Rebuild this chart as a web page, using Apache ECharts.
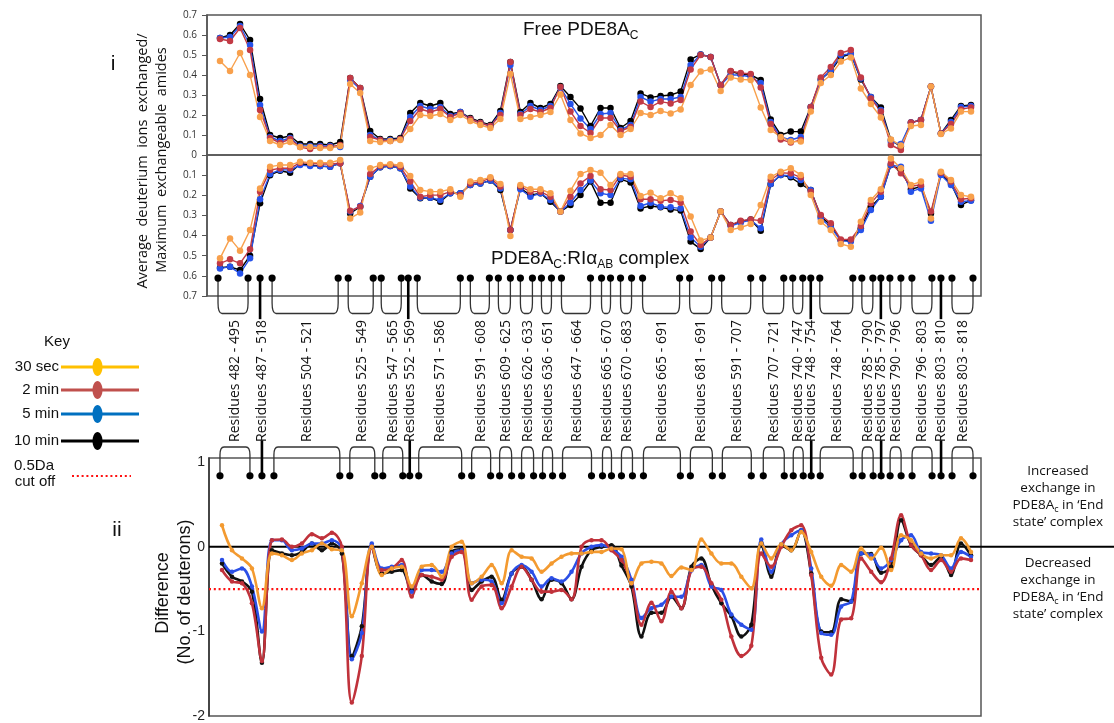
<!DOCTYPE html>
<html><head><meta charset="utf-8">
<script src="https://cdn.jsdelivr.net/npm/echarts@6/dist/echarts.min.js"></script>
<style>html,body{margin:0;padding:0;background:#fff}#c{width:1114px;height:723px}</style>
</head><body><div id="c"></div><script>
// ---------- DATA ----------
const timeLabels = ['30 sec', '2 min', '5 min', '10 min'];
// (i) Free PDE8Ac : fraction exchanged per peptide position
const freeBlack  = [.585,.60,.655,.575,.28,.10,.085,.095,.055,.055,.055,.05,.065,.385,.335,.12,.08,.08,.085,.21,.26,.245,.26,.205,.215,.185,.165,.15,.22,.465,.215,.26,.235,.255,.345,.29,.233,.145,.235,.235,.135,.17,.308,.288,.295,.30,.317,.478,.503,.49,.35,.417,.405,.40,.375,.178,.10,.117,.117,.24,.378,.42,.49,.505,.378,.29,.238,.075,.042,.162,.175,.342,.108,.175,.245,.25];
const freeBlue   = [.585,.59,.645,.55,.25,.09,.07,.085,.045,.045,.045,.045,.04,.375,.33,.10,.075,.075,.08,.19,.245,.23,.24,.195,.215,.18,.16,.145,.21,.45,.205,.245,.225,.245,.338,.255,.183,.13,.205,.21,.125,.15,.29,.267,.28,.28,.29,.45,.503,.49,.35,.40,.40,.39,.36,.165,.09,.075,.09,.24,.375,.425,.50,.505,.383,.29,.225,.065,.055,.162,.175,.342,.108,.165,.24,.245];
const freeRed    = [.58,.57,.635,.525,.225,.085,.06,.08,.04,.03,.04,.04,.05,.385,.335,.09,.075,.07,.08,.17,.23,.215,.23,.19,.21,.18,.16,.145,.20,.465,.20,.23,.215,.235,.34,.217,.145,.11,.185,.185,.12,.14,.267,.24,.267,.258,.275,.428,.50,.49,.35,.42,.41,.405,.338,.155,.078,.062,.075,.24,.388,.44,.51,.525,.388,.283,.217,.05,.025,.162,.175,.342,.108,.155,.228,.238];
const freeOrange = [.47,.42,.51,.40,.19,.07,.05,.065,.04,.04,.035,.035,.045,.355,.31,.07,.065,.07,.075,.13,.20,.195,.205,.175,.20,.17,.15,.135,.18,.405,.18,.19,.20,.215,.303,.175,.108,.085,.10,.15,.10,.13,.21,.20,.22,.208,.228,.35,.417,.428,.32,.388,.378,.375,.238,.125,.09,.067,.067,.217,.36,.40,.467,.488,.333,.255,.188,.078,.047,.145,.15,.342,.105,.133,.217,.217];
// PDE8Ac:RIaAB complex (plotted inverted)
const cplxBlack  = [.56,.555,.571,.50,.24,.10,.078,.088,.045,.05,.055,.058,.041,.29,.257,.108,.061,.055,.066,.166,.215,.212,.232,.19,.19,.149,.141,.127,.174,.372,.165,.199,.19,.232,.281,.248,.199,.132,.237,.237,.12,.137,.265,.253,.26,.27,.276,.43,.467,.409,.281,.348,.33,.32,.376,.144,.099,.111,.144,.174,.306,.348,.425,.425,.364,.257,.207,.05,.074,.17,.157,.29,.094,.141,.248,.225];
const cplxBlue   = [.563,.555,.588,.513,.22,.094,.074,.074,.05,.055,.055,.058,.041,.281,.253,.108,.061,.055,.066,.157,.212,.212,.223,.19,.19,.149,.141,.127,.166,.372,.17,.207,.19,.223,.281,.237,.174,.127,.19,.199,.116,.12,.253,.237,.257,.26,.265,.409,.455,.409,.281,.353,.336,.323,.364,.144,.099,.104,.124,.174,.315,.359,.425,.43,.372,.273,.207,.05,.058,.182,.166,.326,.099,.149,.232,.227];
const cplxRed    = [.538,.518,.538,.468,.182,.075,.066,.066,.038,.041,.045,.045,.041,.277,.257,.094,.055,.05,.058,.132,.207,.199,.199,.182,.199,.141,.132,.116,.157,.372,.157,.182,.182,.207,.281,.207,.141,.104,.17,.174,.099,.108,.22,.22,.227,.223,.237,.38,.447,.409,.281,.348,.326,.32,.326,.124,.088,.091,.111,.182,.298,.339,.419,.419,.353,.24,.182,.041,.091,.154,.149,.281,.088,.132,.22,.215];
const cplxOrange = [.513,.414,.475,.372,.166,.058,.05,.05,.033,.038,.038,.038,.025,.315,.286,.066,.05,.046,.05,.104,.174,.182,.182,.17,.207,.132,.124,.111,.144,.402,.149,.17,.17,.19,.281,.177,.094,.075,.088,.149,.094,.094,.204,.187,.215,.19,.215,.305,.425,.409,.281,.372,.36,.343,.248,.108,.083,.066,.099,.199,.331,.372,.442,.455,.331,.223,.17,.017,.066,.149,.132,.315,.083,.124,.199,.207];
// (ii) Difference (No. of deuterons)
const diffBlack  = [-.196,-.353,-.41,-.53,-1.37,-.04,-.078,-.1,-.06,.04,-.04,.04,-.078,-1.29,-.94,0,-.314,-.294,-.275,-.51,-.333,-.41,-.44,-.06,-.03,-.51,-.41,-.353,-.627,-.314,-.235,-.39,-.62,-.39,-.43,-.62,-.235,-.04,0,.02,-.22,-.47,-1.06,-.78,-.78,-.59,-.725,-.235,-.137,-.45,-.667,-.82,-1.06,-.92,.04,-.353,.02,-.04,.196,-.314,-1.0,-1.01,-.62,-.647,-.078,-.086,-.306,-.235,.314,.02,-.1,-.216,-.118,-.333,.04,-.1];
const diffBlue   = [-.157,-.294,-.255,-.47,-1.0,.078,.078,-.04,-.02,.04,.04,.078,-.02,-1.33,-1.02,.04,-.255,-.235,-.216,-.53,-.275,-.275,-.294,-.078,-.04,-.43,-.39,-.41,-.667,-.314,-.216,-.294,-.47,-.373,-.41,-.294,-.078,0,.02,-.02,-.118,-.39,-.84,-.725,-.686,-.59,-.59,-.28,-.216,-.47,-.51,-.8,-.92,-.98,.086,-.294,.03,.137,.196,-.255,-1.02,-1.04,-.706,-.647,-.078,-.1,-.255,-.157,.078,.137,-.06,-.078,-.1,-.255,-.06,-.118];
const diffRed    = [-.275,-.41,-.43,-.667,-1.35,.078,.086,0,.04,.15,.1,.165,0,-1.84,-1.29,0,-.275,-.255,-.157,-.588,-.333,-.353,-.39,-.118,-.06,-.627,-.47,-.45,-.725,-.47,-.235,-.39,-.53,-.53,-.51,-.62,0,.078,.078,-.04,-.157,-.43,-.92,-.66,-.88,-.53,-.725,-.275,-.235,-.43,-.627,-1.06,-1.29,-1.17,-.078,-.235,0,.196,.255,-.333,-1.31,-1.51,-.86,-.843,-.137,-.294,-.42,-.137,.373,.02,-.1,-.275,-.157,-.294,-.137,-.157];
const diffOrange = [.255,-.04,-.137,-.255,-.725,-.078,-.1,-.157,-.078,-.04,.04,-.03,-.04,-.82,-.43,0,-.333,-.255,-.235,-.47,-.235,-.216,-.353,0,.06,-.43,-.353,-.216,-.43,-.04,-.118,-.137,-.294,-.196,-.118,-.078,-.078,-.06,-.06,-.02,-.03,-.43,-.196,-.176,-.196,-.345,-.243,-.275,.086,-.078,-.196,-.196,-.353,-.49,.04,-.137,.03,-.04,.176,-.06,-.353,-.46,-.216,-.294,-.02,-.137,-.01,-.275,.137,.078,-.078,-.137,-.1,-.1,.1,-.06];
const CUTOFF = -0.5;
// Peptides: label, first and last plot position
const pepLabels = ['Residues 482 - 495','Residues 487 - 518','Residues 504 - 521','Residues 525 - 549','Residues 547 - 565','Residues 552 - 569','Residues 571 - 586','Residues 591 - 608','Residues 609 - 625','Residues 626 - 633','Residues 636 - 651','Residues 647 - 664','Residues 665 - 670','Residues 670 - 683','Residues 665 - 691','Residues 681 - 691','Residues 591 - 707','Residues 707 - 721','Residues 740 - 747','Residues 748 - 754','Residues 748 - 764','Residues 785 - 790','Residues 785 - 797','Residues 790 - 796','Residues 796 - 803','Residues 803 - 810','Residues 803 - 818'];
const pepStart = [-0.2,4.0,5.2,12.8,16.1,18.8,19.7,25,27.8,30,32.1,34.1,38.1,40,42.2,46.9,50.1,54.2,57.2,59,59.9,64.1,66,66.9,69.1,72,73.1];
const pepEnd   = [2.8,4.0,11.8,15.3,18.1,18.8,24,26.9,29,31.2,33.1,37,39,41.1,45.9,49.1,53,56.3,58.2,59,63.2,65.2,66,68,71.1,72,75.2];

// ---------- STYLE ----------
const XMIN = -1.3, XMAX = 76.0;
const topColors = {k:'#000000', b:'#2652ea', r:'#c23a45', o:'#f8a04c'};
const botColors = {k:'#111111', b:'#2b4fe6', r:'#c0323b', o:'#f39a30'};
const keyColors = ['#ffc000', '#c0504d', '#0070c0', '#000000'];
const SANS = '"Open Sans", sans-serif';
const ARIAL = '"Liberation Sans", Arial, sans-serif';

function toXY(arr){ return arr.map((v,i)=>[i,v]); }
function lineS(name, arr, color, gi, opt){
  return Object.assign({
    name, type:'line', xAxisIndex:gi, yAxisIndex:gi, data:toXY(arr),
    symbol:'circle', symbolSize:6.5, showSymbol:true,
    lineStyle:{color, width:1.4}, itemStyle:{color}, silent:true, animation:false
  }, opt||{});
}
function bot(name, arr, color){ const o = lineS(name, arr, color, 2, {smooth:0.35, symbolSize:4.5}); o.lineStyle.width=2.6; return o; }

const pepData = pepStart.map((s,i)=>[s, pepEnd[i], 0]);

function dot(x,y){ return {type:'circle', shape:{cx:x, cy:y, r:3.6}, style:{fill:'#000'}}; }

function renderUpper(params, api){
  const s = api.value(0), e = api.value(1);
  const yD = api.coord([s, 0.611])[1];
  const yC = api.coord([s, 0.735])[1];
  const yB = api.coord([s, 0.787])[1];
  const x1 = api.coord([s, 0])[0], x2 = api.coord([e, 0])[0];
  const ch = [];
  if (s === e) {
    const yE = api.coord([s, 0.815])[1];
    ch.push({type:'line', shape:{x1:x1,y1:yD,x2:x1,y2:yE}, style:{stroke:'#000', lineWidth:2.6}});
    ch.push(dot(x1,yD));
  } else {
    const r = Math.min(4, (x2-x1)/3);
    const p = `M${x1},${yD}L${x1},${yC}Q${x1},${yB} ${x1+r},${yB}L${x2-r},${yB}Q${x2},${yB} ${x2},${yC}L${x2},${yD}`;
    ch.push({type:'path', shape:{pathData:p}, style:{stroke:'#333', lineWidth:1.3, fill:null}});
    ch.push(dot(x1,yD)); ch.push(dot(x2,yD));
  }
  return {type:'group', children:ch};
}
function renderLower(params, api){
  const s = api.value(0), e = api.value(1);
  const yD = api.coord([s, 0.839])[1];
  const yC = api.coord([s, 1.086])[1];
  const yT = api.coord([s, 1.18])[1];
  const yL = api.coord([s, 1.24])[1];
  const x1 = api.coord([s, 0])[0], x2 = api.coord([e, 0])[0];
  const ch = [];
  if (s === e) {
    const yE = api.coord([s, 1.26])[1];
    ch.push({type:'line', shape:{x1:x1,y1:yD,x2:x1,y2:yE}, style:{stroke:'#000', lineWidth:2.6}});
    ch.push(dot(x1,yD));
  } else {
    const r = Math.min(4, (x2-x1)/3);
    const p = `M${x1},${yD}L${x1},${yC}Q${x1},${yT} ${x1+r},${yT}L${x2-r},${yT}Q${x2},${yT} ${x2},${yC}L${x2},${yD}`;
    ch.push({type:'path', shape:{pathData:p}, style:{stroke:'#333', lineWidth:1.3, fill:null}});
    ch.push(dot(x1,yD)); ch.push(dot(x2,yD));
  }
  ch.push({type:'text', x:(x1+x2)/2, y:yL, rotation:Math.PI/2,
    style:{text:pepLabels[params.dataIndex], font:'14px '+SANS, fill:'#111', align:'left', verticalAlign:'middle'}});
  return {type:'group', children:ch};
}

const gridBase = {show:true, borderColor:'#555', borderWidth:1.5, backgroundColor:'transparent'};
const xBase = {type:'value', min:XMIN, max:XMAX, show:false};
const yLab = {fontSize:10, color:'#333', fontFamily:SANS, margin:10};

const option = {
  animation:false,
  grid:[
    Object.assign({left:207, top:15, width:774, height:140}, gridBase),
    Object.assign({left:207, top:155, width:774, height:141}, gridBase),
    Object.assign({left:209, top:458, width:772, height:259}, gridBase)
  ],
  xAxis:[Object.assign({gridIndex:0}, xBase), Object.assign({gridIndex:1}, xBase), Object.assign({gridIndex:2}, xBase)],
  yAxis:[
    {gridIndex:0, type:'value', min:0, max:0.7, interval:0.1, splitLine:{show:false},
     axisLine:{show:true, onZero:false, lineStyle:{color:'#555', width:1.5}}, axisTick:{show:true, length:5, lineStyle:{color:'#555'}},
     axisLabel:Object.assign({showMinLabel:false, formatter:v=>v.toFixed(1)}, yLab)},
    {gridIndex:1, type:'value', inverse:true, min:0, max:0.7, interval:0.1, splitLine:{show:false},
     axisLine:{show:true, onZero:false, lineStyle:{color:'#555', width:1.5}}, axisTick:{show:true, length:5, lineStyle:{color:'#555'}},
     axisLabel:Object.assign({formatter:v=>v===0?'0':v.toFixed(1)}, yLab)},
    {gridIndex:2, type:'value', min:-2, max:1.05, interval:1, splitLine:{show:false},
     axisLine:{show:true, onZero:false, lineStyle:{color:'#333', width:1.5}}, axisTick:{show:false},
     axisLabel:{fontSize:14, color:'#222', fontFamily:ARIAL, margin:4, formatter:v=>String(v)}}
  ],
  series:[
    lineS(timeLabels[3], freeBlack, topColors.k, 0),
    lineS(timeLabels[2], freeBlue, topColors.b, 0),
    lineS(timeLabels[1], freeRed, topColors.r, 0),
    lineS(timeLabels[0], freeOrange, topColors.o, 0),
    lineS(timeLabels[3], cplxBlack, topColors.k, 1),
    lineS(timeLabels[2], cplxBlue, topColors.b, 1),
    lineS(timeLabels[1], cplxRed, topColors.r, 1),
    lineS(timeLabels[0], cplxOrange, topColors.o, 1),
    {name:'0.5Da cut off', type:'line', xAxisIndex:2, yAxisIndex:2, data:[[XMIN,CUTOFF],[XMAX,CUTOFF]],
     symbol:'none', lineStyle:{color:'#ff1010', width:2.2, type:[2,2.8]}, silent:true, z:1},
    {type:'custom', xAxisIndex:2, yAxisIndex:2, data:[[XMIN,0]], silent:true, clip:false, z:1,
     renderItem:(p,api)=>{const a=api.coord([XMIN,0]); return {type:'line', shape:{x1:a[0],y1:a[1],x2:api.getWidth(),y2:a[1]}, style:{stroke:'#000', lineWidth:2}};}},
    bot(timeLabels[3], diffBlack, botColors.k),
    bot(timeLabels[2], diffBlue, botColors.b),
    bot(timeLabels[1], diffRed, botColors.r),
    bot(timeLabels[0], diffOrange, botColors.o),
    {type:'custom', xAxisIndex:1, yAxisIndex:1, data:pepData, encode:{x:[0,1], y:2}, silent:true, clip:false, z:5, renderItem:renderUpper},
    {type:'custom', xAxisIndex:2, yAxisIndex:2, data:pepData, encode:{x:[0,1], y:2}, silent:true, clip:false, z:5, renderItem:renderLower}
  ],
  graphic:[]
};

const g = option.graphic;
function txt(x,y,text,font){ g.push({type:'text', x, y, silent:true, style:{text, font, fill:'#111', align:'center', verticalAlign:'middle'}}); }
function vtxt(x,y,text,font){ g.push({type:'text', x, y, rotation:Math.PI/2, silent:true, style:{text, font, fill:'#111', align:'center', verticalAlign:'middle'}}); }
txt(113, 64, 'i', '21px '+ARIAL);
txt(117, 530, 'ii', '21px '+ARIAL);
vtxt(143, 161, 'Average  deuterium  ions  exchanged/', '14.5px '+SANS);
vtxt(162, 160, 'Maximum  exchangeable  amides', '14.5px '+SANS);
vtxt(163, 593, 'Difference', '18px '+ARIAL);
vtxt(185, 592, '(No. of deuterons)', '18px '+ARIAL);
const richT = {n:{fontSize:19, fontFamily:ARIAL, lineHeight:24, verticalAlign:'middle', fill:'#111'},
               s:{fontSize:12, fontFamily:ARIAL, lineHeight:12, verticalAlign:'bottom', fill:'#111'}};
g.push({type:'text', x:523, y:30, silent:true, style:{text:'{n|Free PDE8A}{s|C}', rich:richT, align:'left', verticalAlign:'middle'}});
g.push({type:'text', x:491, y:259, silent:true, style:{text:'{n|PDE8A}{s|C}{n|:RIα}{s|AB}{n| complex}', rich:richT, align:'left', verticalAlign:'middle'}});
const richA = {n:{fontSize:13.5, fontFamily:SANS, lineHeight:17, fill:'#111'}, s:{fontSize:9, fontFamily:SANS, lineHeight:12, verticalAlign:'bottom', fill:'#111'}};
g.push({type:'text', x:1058, y:497, silent:true, style:{text:'{n|Increased}\n{n|exchange in}\n{n|PDE8A}{s|c}{n| in ‘End}\n{n|state’ complex}', rich:richA, align:'center', verticalAlign:'middle'}});
g.push({type:'text', x:1058, y:589, silent:true, style:{text:'{n|Decreased}\n{n|exchange in}\n{n|PDE8A}{s|c}{n| in ‘End}\n{n|state’ complex}', rich:richA, align:'center', verticalAlign:'middle'}});
// Key
txt(57, 342, 'Key', '15px '+ARIAL);
const keyY = [367, 390, 414, 441];
timeLabels.forEach((t,i)=>{
  g.push({type:'text', x:59, y:keyY[i], silent:true, style:{text:t, font:'15px '+ARIAL, fill:'#111', align:'right', verticalAlign:'middle'}});
  g.push({type:'line', silent:true, shape:{x1:61, y1:keyY[i], x2:139, y2:keyY[i]}, style:{stroke:keyColors[i], lineWidth:3.2}});
  g.push({type:'ellipse', silent:true, shape:{cx:97.5, cy:keyY[i], rx:5, ry:9}, style:{fill:keyColors[i]}});
});
txt(34, 466, '0.5Da', '15px '+ARIAL);
txt(35, 482, 'cut off', '15px '+ARIAL);
g.push({type:'line', silent:true, shape:{x1:72, y1:476, x2:131, y2:476}, style:{stroke:'#ff1010', lineWidth:2, lineDash:[2,2.8]}});

const chart = echarts.init(document.getElementById('c'), null, {renderer:'canvas'});
chart.setOption(option);
</script></body></html>
